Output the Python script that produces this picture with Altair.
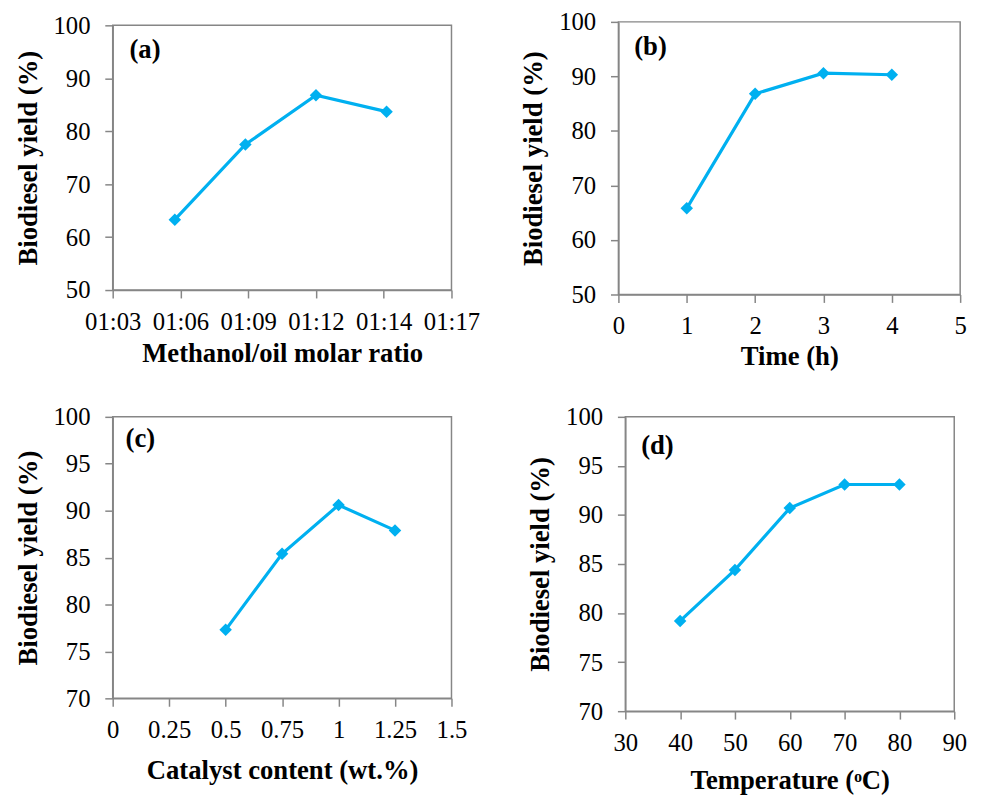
import altair as alt
import pandas as pd

# ---- data ----
ratio_minutes = [66, 69, 72, 75]            # 1:6, 1:9, 1:12, 1:15 read by Excel as times
ratio_yield = [63.3, 77.5, 86.8, 83.7]
ratio_ticks = [63.36, 66.24, 69.12, 72.0, 74.88, 77.76]
ratio_tick_labels = ["01:03", "01:06", "01:09", "01:12", "01:14", "01:17"]

time_h = [1, 2, 3, 4]
time_yield = [65.8, 86.8, 90.6, 90.3]
time_ticks = [0, 1, 2, 3, 4, 5]

catalyst_wt = [0.5, 0.75, 1.0, 1.25]
catalyst_yield = [77.3, 85.4, 90.6, 87.9]
catalyst_ticks = [0, 0.25, 0.5, 0.75, 1.0, 1.25, 1.5]

temperature_c = [40, 50, 60, 70, 80]
temperature_yield = [79.2, 84.4, 90.7, 93.1, 93.1]
temperature_ticks = [30, 40, 50, 60, 70, 80, 90]

yield_ticks_top = [50, 60, 70, 80, 90, 100]
yield_ticks_bottom = [70, 75, 80, 85, 90, 95, 100]

Y_TITLE = "Biodiesel yield (%)"
FONT = "Liberation Serif"
BLUE = "#00B0F0"
GRAY = "#868686"


def panel(xs, ys, xticks, yticks, tag, tag_dx, tag_dy, w, h, xtitle,
          xtitle_pad, label_expr="'' + datum.value"):
    df = pd.DataFrame({"x": xs, "y": ys})
    x = alt.X("x:Q", scale=alt.Scale(domain=[xticks[0], xticks[-1]], nice=False, zero=False),
              axis=alt.Axis(values=xticks, title=xtitle, labelFlush=False,
                            labelOverlap=False, titlePadding=xtitle_pad, labelExpr=label_expr))
    y = alt.Y("y:Q", scale=alt.Scale(domain=[yticks[0], yticks[-1]], nice=False, zero=False),
              axis=alt.Axis(values=yticks, title=Y_TITLE, labelOverlap=False))
    base = alt.Chart(df).encode(x=x, y=y)
    line = base.mark_line(color=BLUE, strokeWidth=3.2)
    pts = base.mark_point(shape="diamond", filled=True, color=BLUE, size=160, opacity=1)
    lab = alt.Chart(pd.DataFrame({"tag": [tag]})).mark_text(
        font=FONT, fontSize=27, fontWeight="bold", align="left", baseline="middle", color="black"
    ).encode(text="tag:N", x=alt.value(tag_dx), y=alt.value(tag_dy))
    return alt.layer(line, pts, lab).properties(width=w, height=h)


expr_ticks = "[" + ",".join(repr(t) for t in ratio_tick_labels) + "]"
ratio_expr = f"{expr_ticks}[round((datum.value - {ratio_ticks[0]}) / {ratio_ticks[1] - ratio_ticks[0]:.2f})]"

pa = panel(ratio_minutes, ratio_yield, ratio_ticks, yield_ticks_top, "(a)", 17, 25,
           343, 268, "Methanol/oil molar ratio", 6, ratio_expr)
pb = panel(time_h, time_yield, time_ticks, yield_ticks_top, "(b)", 16, 26,
           346, 276, "Time (h)", 5)
pc = panel(catalyst_wt, catalyst_yield, catalyst_ticks, yield_ticks_bottom, "(c)", 13, 23,
           343, 285, "Catalyst content (wt.%)", 15)
pd_ = panel(temperature_c, temperature_yield, temperature_ticks, yield_ticks_bottom, "(d)", 16, 30,
            333, 298, "Temperature (\u1d52C)", 12)

row1 = alt.hconcat(pa, pb, spacing=38, center=True)
row2 = alt.hconcat(pc, pd_, spacing=58)

chart = alt.vconcat(row1, row2, spacing=34).properties(
    padding={"left": 5, "top": -4, "right": 5, "bottom": 2}, background="white"
).configure_view(stroke=GRAY, strokeWidth=1.5).configure_axis(
    labelFont=FONT, labelFontSize=25, labelColor="black",
    titleFont=FONT, titleFontSize=27, titleFontWeight="bold", titleColor="black",
    domainColor=GRAY, domainWidth=1.5, tickColor=GRAY, tickWidth=1.5, tickSize=8,
    grid=False,
).configure_axisY(labelPadding=15, titlePadding=11).configure_axisX(labelPadding=12)

chart.save("out.html", embed_options={"renderer": "svg", "actions": False})
